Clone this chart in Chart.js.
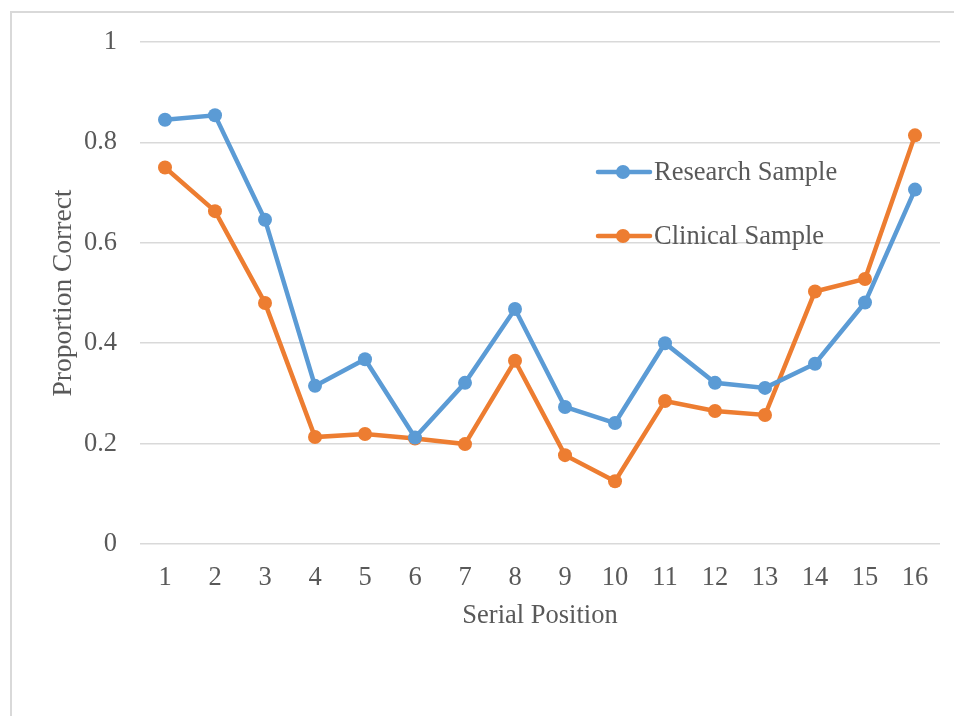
<!DOCTYPE html>
<html>
<head>
<meta charset="utf-8">
<script src="https://cdn.jsdelivr.net/npm/chart.js@4/dist/chart.umd.min.js"></script>
<style>
  html, body { margin: 0; padding: 0; background: #ffffff; overflow: hidden; }
  #frame {
    position: absolute; left: 10px; top: 11px; width: 960px; height: 720px;
    border-left: 2px solid #d9d9d9; border-top: 2px solid #d9d9d9;
  }
  #wrap { position: absolute; left: 0; top: 0; width: 954px; height: 716px; }
</style>
</head>
<body>
<div id="frame"></div>
<div id="wrap"><canvas id="chart" width="954" height="716"></canvas></div>
<script>
// Serial positions on the x axis
const positions = ['1','2','3','4','5','6','7','8','9','10','11','12','13','14','15','16'];

// Proportion correct at each serial position
const researchSample = [0.845, 0.854, 0.646, 0.315, 0.368, 0.212, 0.321, 0.468, 0.273, 0.241, 0.400, 0.321, 0.311, 0.359, 0.481, 0.706];
const clinicalSample = [0.750, 0.663, 0.480, 0.213, 0.219, 0.210, 0.199, 0.365, 0.177, 0.125, 0.285, 0.265, 0.257, 0.503, 0.528, 0.814];

const seriesNames = ['Research Sample', 'Clinical Sample'];
const yTickLabels = ['0', '0.2', '0.4', '0.6', '0.8', '1'];

const FONT = '"Liberation Serif", "Times New Roman", serif';
const FONT_SIZE = 26.5;
const TEXT = '#595959';
const BLUE = '#5B9BD5';
const ORANGE = '#ED7D31';

// Legend drawn inside the plot, to the right of the centre
const insideLegend = {
  id: 'insideLegend',
  afterDraw(chart) {
    const ctx = chart.ctx;
    const rows = [
      { ds: chart.data.datasets[0], y: 172 },
      { ds: chart.data.datasets[1], y: 236 }
    ];
    ctx.save();
    rows.forEach(r => {
      ctx.strokeStyle = r.ds.borderColor;
      ctx.lineWidth = 4.5;
      ctx.lineCap = 'round';
      ctx.beginPath();
      ctx.moveTo(598, r.y);
      ctx.lineTo(650, r.y);
      ctx.stroke();
      ctx.fillStyle = r.ds.borderColor;
      ctx.beginPath();
      ctx.arc(623, r.y, 7, 0, Math.PI * 2);
      ctx.fill();
      ctx.fillStyle = TEXT;
      ctx.font = FONT_SIZE + 'px ' + FONT;
      ctx.textBaseline = 'middle';
      ctx.textAlign = 'left';
      ctx.fillText(r.ds.label, 654, r.y + 1);
    });
    ctx.restore();
  }
};

new Chart(document.getElementById('chart'), {
  type: 'line',
  data: {
    labels: positions,
    datasets: [
      {
        label: seriesNames[0],
        data: researchSample,
        borderColor: BLUE,
        backgroundColor: BLUE,
        borderWidth: 4.5,
        pointRadius: 7,
        pointHoverRadius: 7,
        pointBorderWidth: 0,
        tension: 0
      },
      {
        label: seriesNames[1],
        data: clinicalSample,
        borderColor: ORANGE,
        backgroundColor: ORANGE,
        borderWidth: 4.5,
        pointRadius: 7,
        pointHoverRadius: 7,
        pointBorderWidth: 0,
        tension: 0
      }
    ]
  },
  options: {
    responsive: false,
    animation: false,
    events: [],
    layout: { padding: { left: 47, top: 42, right: 14, bottom: 84 } },
    plugins: {
      legend: { display: false },
      tooltip: { enabled: false }
    },
    scales: {
      x: {
        offset: true,
        grid: { display: false, drawTicks: false },
        border: { display: false },
        ticks: { color: TEXT, font: { family: FONT, size: FONT_SIZE }, padding: 18, maxRotation: 0, autoSkip: false },
        title: { display: true, text: 'Serial Position', color: TEXT, font: { family: FONT, size: FONT_SIZE }, padding: 0 },
        afterFit(scale) { scale.height = 88; }
      },
      y: {
        min: 0,
        max: 1,
        grid: { color: '#d9d9d9', lineWidth: 1.5, drawTicks: false },
        border: { display: false },
        ticks: {
          stepSize: 0.2,
          color: TEXT,
          font: { family: FONT, size: FONT_SIZE },
          padding: 23,
          callback: (v) => yTickLabels[Math.round(v / 0.2)]
        },
        title: { display: true, text: 'Proportion Correct', color: TEXT, font: { family: FONT, size: 27.5 }, padding: 0 },
        afterFit(scale) { scale.width = 93; }
      }
    }
  },
  plugins: [insideLegend]
});
</script>
</body>
</html>
